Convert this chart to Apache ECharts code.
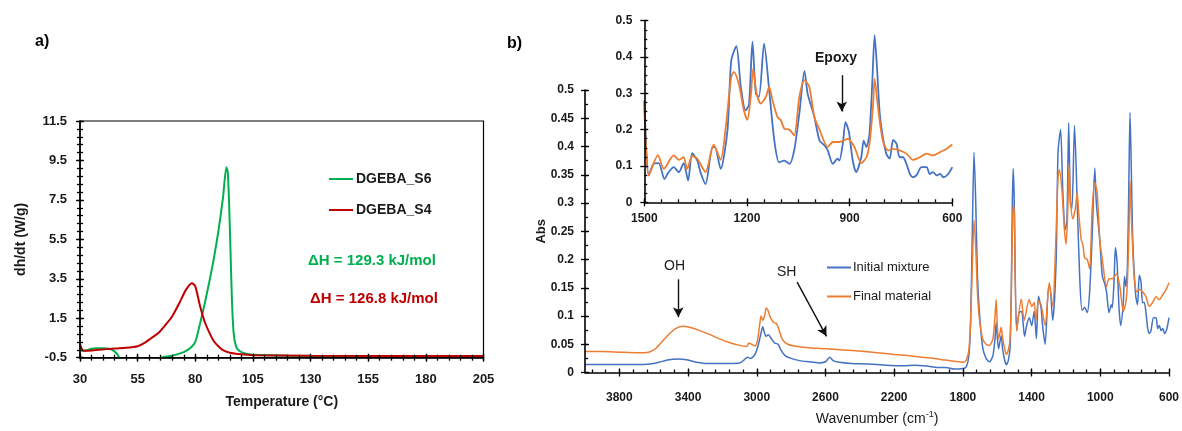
<!DOCTYPE html>
<html><head><meta charset="utf-8">
<script src="https://cdn.jsdelivr.net/npm/echarts@6/dist/echarts.min.js"></script>
<style>html,body{margin:0;padding:0;background:#fff}#c{width:1182px;height:431px}</style>
</head><body><div id="c"></div>
<script>
// ---------- Panel a: DSC curves (temperature °C, dh/dt W/g) ----------
const dgebaS6 = [[30,0.0],[31,-0.15],[33,-0.12],[35,-0.05],[37,-0.02],[40,-0.02],[42,-0.03],[44,-0.1],[46,-0.3],[47.5,-0.6],[49,-0.8],[62,-0.8],[64,-0.55],[66,-0.47],[70,-0.4],[75,-0.22],[78,0.0],[80,0.3],[82,1.2],[84,2.2],[86,3.3],[88,4.5],[90,5.9],[92,7.6],[93.5,9.15],[94.1,8.9],[94.7,7.2],[95.3,4.8],[95.9,2.4],[96.6,0.8],[97.6,0.1],[99,-0.15],[102,-0.3],[105,-0.35],[120,-0.4],[150,-0.42],[205,-0.43]];
const dgebaS4 = [[30,0.2],[30.6,0.0],[31.5,-0.15],[33,-0.15],[36,-0.12],[40,-0.08],[45,-0.03],[50,0.0],[55,0.08],[58,0.25],[61,0.5],[64,0.75],[67,1.15],[70,1.6],[73,2.25],[76,2.95],[78.5,3.28],[80,3.12],[82,2.15],[84,1.35],[86,0.8],[88,0.35],[90,0.08],[92,-0.12],[95,-0.25],[100,-0.33],[105,-0.37],[130,-0.4],[205,-0.42]];
const aXTicks = [30,55,80,105,130,155,180,205];
const aYTicks = [-0.5,1.5,3.5,5.5,7.5,9.5,11.5];

// ---------- Panel b: FTIR spectra (wavenumber cm-1, absorbance) ----------
const initialMixtureHigh = [[4000,0.014],[3900,0.014],[3800,0.014],[3700,0.014],[3620,0.015],[3570,0.018],[3520,0.022],[3460,0.024],[3400,0.022],[3350,0.018],[3300,0.016],[3200,0.016],[3100,0.017],[3075,0.022],[3055,0.027],[3035,0.025],[3010,0.032],[2990,0.05],[2975,0.07],[2965,0.081],[2955,0.07],[2945,0.064],[2932,0.067],[2915,0.06],[2895,0.052],[2875,0.05],[2860,0.04],[2835,0.03],[2800,0.025],[2750,0.021],[2700,0.019],[2640,0.017],[2600,0.019],[2575,0.027],[2555,0.021],[2520,0.018],[2450,0.016],[2350,0.015],[2250,0.013],[2150,0.012],[2080,0.013],[2000,0.011],[1950,0.009],[1900,0.009],[1850,0.006],[1800,0.007],[1780,0.01],[1765,0.03],[1755,0.09],[1745,0.25],[1735,0.39],[1725,0.3],[1715,0.17],[1702,0.1],[1685,0.045],[1665,0.025],[1645,0.019],[1625,0.03],[1613,0.06],[1606,0.088],[1599,0.06],[1592,0.042],[1584,0.055],[1577,0.065],[1568,0.04],[1555,0.02],[1547,0.014],[1535,0.022],[1525,0.045],[1518,0.15],[1512,0.3],[1507,0.361],[1502,0.32]];
const initialMixtureLow = [[1500,0.28],[1487,0.074],[1473,0.106],[1458,0.108],[1441,0.064],[1429,0.083],[1414,0.097],[1399,0.083],[1385,0.108],[1372,0.06],[1360,0.135],[1345,0.115],[1336,0.083],[1321,0.05],[1301,0.152],[1294,0.152],[1277,0.092],[1257,0.198],[1246,0.39],[1231,0.43],[1218,0.318],[1204,0.253],[1194,0.27],[1184,0.442],[1174,0.3],[1165,0.29],[1150,0.437],[1135,0.308],[1120,0.17],[1106,0.11],[1091,0.115],[1076,0.106],[1062,0.143],[1047,0.244],[1032,0.362],[1023,0.3],[1013,0.267],[1003,0.235],[988,0.17],[974,0.157],[964,0.143],[949,0.106],[935,0.12],[930,0.115],[920,0.161],[912,0.221],[902,0.193],[891,0.115],[881,0.083],[866,0.124],[859,0.17],[851,0.152],[842,0.189],[834,0.327],[827,0.46],[820,0.37],[812,0.244],[803,0.18],[793,0.134],[783,0.12],[773,0.172],[763,0.161],[754,0.124],[744,0.124],[734,0.106],[724,0.078],[715,0.069],[705,0.074],[690,0.097],[675,0.097],[666,0.078],[656,0.083],[646,0.074],[636,0.078],[626,0.069],[612,0.078],[600,0.097]];
const finalMaterialHigh = [[4000,0.037],[3900,0.037],[3800,0.036],[3700,0.035],[3630,0.036],[3590,0.042],[3550,0.055],[3510,0.068],[3470,0.078],[3430,0.082],[3390,0.08],[3340,0.075],[3280,0.068],[3220,0.06],[3160,0.053],[3100,0.048],[3060,0.046],[3045,0.052],[3030,0.05],[3010,0.047],[2995,0.058],[2983,0.085],[2975,0.1],[2965,0.092],[2955,0.1],[2945,0.114],[2935,0.11],[2920,0.097],[2900,0.088],[2885,0.087],[2870,0.075],[2850,0.058],[2820,0.05],[2780,0.047],[2700,0.044],[2600,0.042],[2500,0.04],[2400,0.038],[2300,0.035],[2200,0.032],[2150,0.031],[2100,0.029],[2000,0.026],[1900,0.022],[1850,0.02],[1800,0.018],[1780,0.022],[1765,0.04],[1755,0.09],[1745,0.19],[1735,0.27],[1725,0.22],[1715,0.14],[1702,0.09],[1685,0.06],[1665,0.05],[1645,0.048],[1625,0.06],[1613,0.1],[1606,0.129],[1599,0.08],[1592,0.06],[1584,0.07],[1577,0.08],[1568,0.06],[1555,0.04],[1547,0.032],[1535,0.04],[1525,0.06],[1518,0.14],[1512,0.25],[1507,0.295],[1502,0.29]];
const finalMaterialLow = [[1500,0.28],[1487,0.074],[1460,0.13],[1443,0.092],[1414,0.129],[1399,0.117],[1385,0.124],[1375,0.092],[1360,0.127],[1345,0.12],[1321,0.083],[1297,0.159],[1277,0.117],[1262,0.207],[1246,0.345],[1238,0.359],[1223,0.322],[1209,0.253],[1199,0.227],[1189,0.29],[1182,0.368],[1172,0.3],[1160,0.272],[1145,0.29],[1135,0.318],[1125,0.28],[1111,0.235],[1101,0.226],[1091,0.203],[1076,0.2],[1062,0.184],[1047,0.29],[1032,0.336],[1018,0.318],[1003,0.235],[988,0.2],[964,0.152],[949,0.166],[930,0.166],[905,0.175],[886,0.152],[866,0.108],[851,0.124],[842,0.161],[832,0.262],[827,0.34],[817,0.26],[803,0.17],[788,0.143],[773,0.147],[754,0.143],[734,0.134],[715,0.117],[695,0.124],[675,0.134],[656,0.129],[636,0.138],[617,0.147],[600,0.159]];
const bXTicks = [3800,3400,3000,2600,2200,1800,1400,1000,600];
const bYTicks = [0,0.05,0.1,0.15,0.2,0.25,0.3,0.35,0.4,0.45,0.5];
const insetXTicks = [1500,1200,900,600];
const insetYTicks = [0,0.1,0.2,0.3,0.4,0.5];

// annotation arrows, in data coordinates [from, to]
const arrowOH = [[3457,0.165],[3457,0.098]];
const arrowSH = [[2765,0.16],[2594,0.064]];
const arrowEpoxy = [[923,0.35],[923,0.25]];

function range(a, b, step){ const r=[]; for(let i=0;;i++){ const v=+(a+i*step).toFixed(4); if(v>b+1e-9) break; r.push(v);} return r; }
const aXMinor = range(30,205,5), aYMinor = range(-0.5,11.5,0.4);
const bXMinor = range(600,4000,80), bYMinor = range(0,0.5,0.025);
const inXMinor = range(600,1500,50), inYMinor = range(0,0.5,0.025);

const FONT = 'Liberation Sans';
const TXT = '#1a1a1a';
function axisSet(dim, grid, o){
  const tickStyle = {color:'#000', width:1.3};
  const base = {type:'value', gridIndex:grid, min:o.min, max:o.max, inverse:!!o.inverse,
    position: dim==='x'?'bottom':'left', splitLine:{show:false}, z:5};
  const main = Object.assign({}, base, {
    axisLine:{show:true,onZero:false,lineStyle:{color:'#000',width:o.lw||1.6}},
    axisTick:{show:true,inside:false,length:4,customValues:o.major,lineStyle:tickStyle},
    axisLabel:{customValues:o.major,margin:o.margin,color:TXT,fontFamily:FONT,fontWeight:'bold',fontSize:o.fs||12,
      formatter:function(v){ return String(v); }},
    name:o.name||'', nameLocation:'middle', nameGap:o.nameGap||0, nameRotate:o.nameRotate,
    nameMoveOverlap:false, nameTextStyle:o.nameStyle||{}
  });
  const inner = Object.assign({}, base, {
    axisLine:{show:false,onZero:false}, axisLabel:{show:false},
    axisTick:{show:true,inside:true,length:4,customValues:o.major,lineStyle:tickStyle}});
  const minor = Object.assign({}, base, {
    axisLine:{show:false,onZero:false}, axisLabel:{show:false},
    axisTick:{show:true,inside:true,length:3,customValues:o.minor,lineStyle:tickStyle}});
  const arr = [main, inner, minor];
  if (o.minorCross) arr.push(Object.assign({}, base, {
    axisLine:{show:false,onZero:false}, axisLabel:{show:false},
    axisTick:{show:true,inside:false,length:3,customValues:o.minor,lineStyle:tickStyle}}));
  return arr;
}

const xAxes = [], yAxes = [];
const aX = xAxes.length; xAxes.push(...axisSet('x',0,{min:30,max:205,major:aXTicks,minor:aXMinor,margin:15,fs:13,minorCross:true,
  name:'Temperature (°C)',nameGap:37,nameStyle:{fontFamily:FONT,fontWeight:'bold',fontSize:14,color:TXT}}));
const aY = yAxes.length; yAxes.push(...axisSet('y',0,{min:-0.5,max:11.5,major:aYTicks,minor:aYMinor,margin:13,fs:13,minorCross:true,
  name:'dh/dt (W/g)',nameGap:52,nameRotate:90,nameStyle:{fontFamily:FONT,fontWeight:'bold',fontSize:14,color:TXT}}));
const bX = xAxes.length; xAxes.push(...axisSet('x',1,{min:600,max:4000,inverse:true,major:bXTicks,minor:bXMinor,margin:19,
  name:'{n|Wavenumber (cm}{s|-1}{n|)}',nameGap:38,nameStyle:{rich:{n:{fontFamily:FONT,fontSize:14,color:TXT},s:{fontFamily:FONT,fontSize:9,color:TXT,verticalAlign:'top',padding:[0,0,8,0]}}}}));
const bY = yAxes.length; yAxes.push(...axisSet('y',1,{min:0,max:0.5,major:bYTicks,minor:bYMinor,margin:11,
  name:'Abs',nameGap:37,nameRotate:90,nameStyle:{fontFamily:FONT,fontWeight:'bold',fontSize:13,color:TXT}}));
const iX = xAxes.length; xAxes.push(...axisSet('x',2,{min:600,max:1500,inverse:true,major:insetXTicks,minor:inXMinor,margin:10}));
const iY = yAxes.length; yAxes.push(...axisSet('y',2,{min:0,max:0.5,major:insetYTicks,minor:inYMinor,margin:12}));

const BLUE='#4472C4', ORANGE='#ED7D31', GREEN='#00B050', RED='#C00000';
function arrowML(list){
  return {silent:true, symbol:['none','arrow'], symbolSize:[8,10], label:{show:false},
    lineStyle:{color:'#111',width:1.4,type:'solid'}, emphasis:{disabled:true},
    data:list.map(a=>[{coord:a[0]},{coord:a[1]}])};
}
function line(name, data, xi, yi, color, w, extra){
  return Object.assign({type:'line', name, data, xAxisIndex:xi, yAxisIndex:yi, symbol:'none', showSymbol:false,
    smooth:0.25, lineStyle:{color, width:w}, itemStyle:{color}, animation:false, z:3}, extra||{});
}

const option = {
  animation:false,
  grid:[
    {left:80, top:121, width:403.5, height:236.7, show:true, borderColor:'#000', borderWidth:1.2, backgroundColor:'transparent'},
    {left:585, top:90, width:585, height:286.3},
    {left:644.3, top:20.7, width:308, height:181.6}
  ],
  xAxis:xAxes, yAxis:yAxes,
  legend:[
    {data:['DGEBA_S6','DGEBA_S4'], orient:'vertical', left:329, top:172, icon:'rect', itemWidth:24, itemHeight:2, itemGap:17, padding:0,
     textStyle:{fontFamily:FONT,fontWeight:'bold',fontSize:14,color:TXT,padding:[0,0,0,-2]}, selectedMode:false},
    {data:['Initial mixture','Final material'], orient:'vertical', left:827, top:261, icon:'rect', itemWidth:24, itemHeight:2, itemGap:16, padding:0,
     textStyle:{fontFamily:FONT,fontSize:13,color:TXT,padding:[0,0,0,-3]}, selectedMode:false}
  ],
  series:[
    line('DGEBA_S6', dgebaS6, aX, aY, GREEN, 2),
    line('DGEBA_S4', dgebaS4, aX, aY, RED, 2),
    line('Initial mixture', initialMixtureHigh.concat(initialMixtureLow), bX, bY, BLUE, 1.5, {markLine:arrowML([arrowOH, arrowSH])}),
    line('Final material', finalMaterialHigh.concat(finalMaterialLow), bX, bY, ORANGE, 1.5),
    line('Initial mixture', initialMixtureLow, iX, iY, BLUE, 1.8, {markLine:arrowML([arrowEpoxy])}),
    line('Final material', finalMaterialLow, iX, iY, ORANGE, 1.8)
  ],
  graphic:[
    {type:'text', left:35, top:34, style:{text:'a)', font:'bold 16px '+FONT, fill:'#000'}},
    {type:'text', left:507, top:36, style:{text:'b)', font:'bold 16px '+FONT, fill:'#000'}},
    {type:'text', left:308, top:253, style:{text:'ΔH = 129.3 kJ/mol', font:'bold 15px '+FONT, fill:GREEN}},
    {type:'text', left:310, top:291, style:{text:'ΔH = 126.8 kJ/mol', font:'bold 15px '+FONT, fill:RED}},
    {type:'text', left:664, top:259, style:{text:'OH', font:'14px '+FONT, fill:TXT}},
    {type:'text', left:777, top:265, style:{text:'SH', font:'14px '+FONT, fill:TXT}},
    {type:'text', left:815, top:51, style:{text:'Epoxy', font:'bold 14px '+FONT, fill:TXT}}
  ]
};
echarts.init(document.getElementById('c'), null, {renderer:'canvas'}).setOption(option);
</script></body></html>
